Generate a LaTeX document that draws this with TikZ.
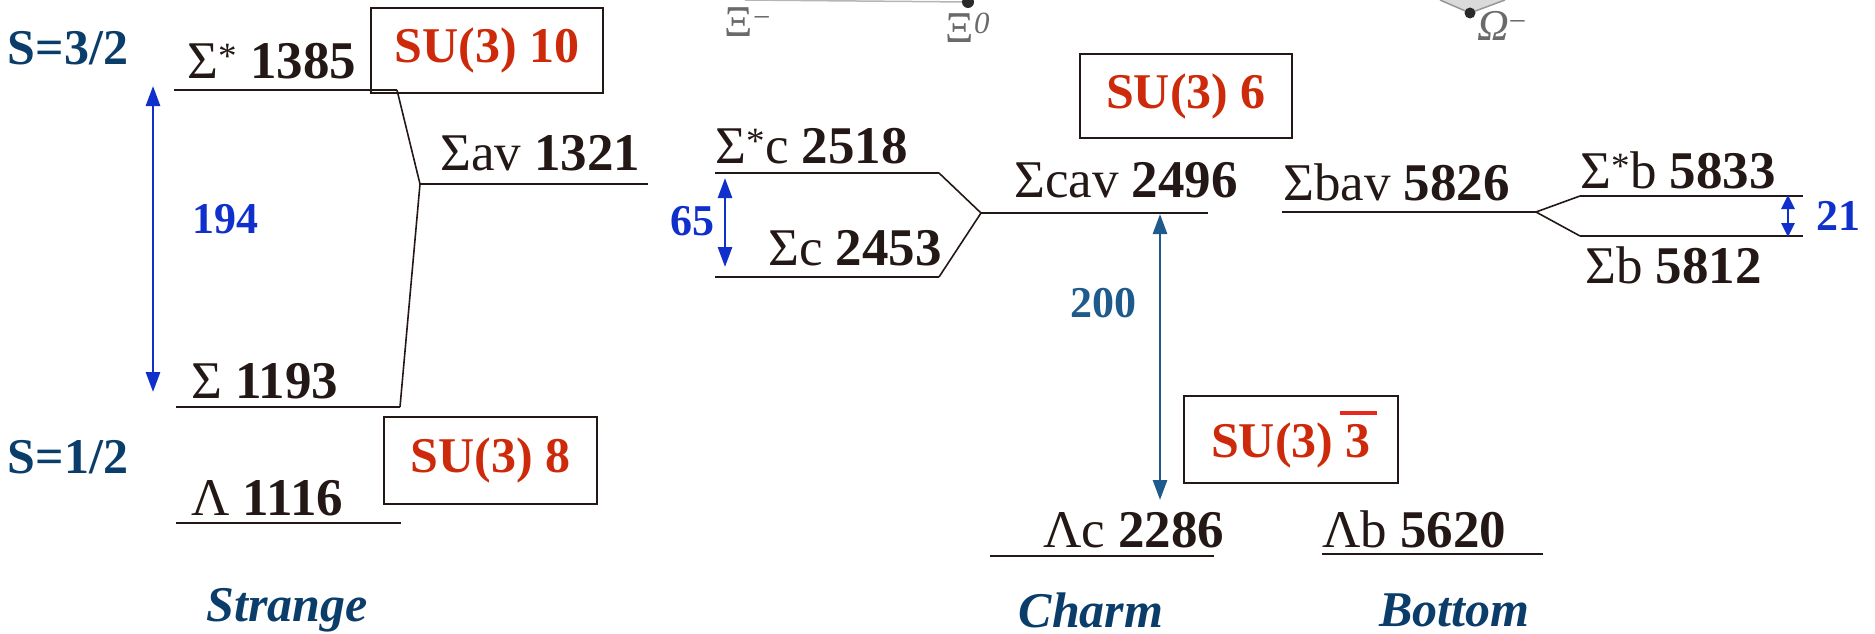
\documentclass[tikz,border=0pt]{standalone}
\usepackage{fontspec}
\setmainfont{Liberation Serif}
\usetikzlibrary{arrows.meta}
\definecolor{ink}{HTML}{231815}
\definecolor{navy}{HTML}{0B3D6B}
\definecolor{redsu}{HTML}{CC2A0A}
\definecolor{redbar}{HTML}{E8281E}
\definecolor{blu}{HTML}{1030CC}
\definecolor{steel}{HTML}{1F5A8C}
\definecolor{ghost}{HTML}{6A6A6A}
\begin{document}
\begin{tikzpicture}[x=1pt,y=-1pt,
 lvl/.style={line width=2.2pt, draw=ink},
 conn/.style={line width=1.6pt, draw=ink},
 lab/.style={anchor=base west, inner sep=0pt, text=ink, font=\fontsize{53}{60}\selectfont},
 subox/.style={draw=ink, line width=2pt, text=redsu, font=\bfseries\fontsize{50}{60}\selectfont, inner sep=0pt},
 spin/.style={text=navy, font=\bfseries\fontsize{50}{60}\selectfont, inner sep=0pt},
 flav/.style={text=navy, font=\bfseries\itshape\fontsize{50}{60}\selectfont, inner sep=0pt},
 gap/.style={text=blu, font=\bfseries\fontsize{44}{50}\selectfont, inner sep=0pt},
 gaparrow/.style={draw=blu, line width=2.8pt, {Triangle[length=20pt,width=14pt]}-{Triangle[length=20pt,width=14pt]}},
 ghosttext/.style={text=ghost, inner sep=0pt, font=\fontsize{44}{46}\selectfont},
]
\useasboundingbox (0,0) rectangle (1875,634);

% ---- faded fragments at the top
\coordinate (g1) at (745,0);
\coordinate (g2) at (968,2);
\draw[ghost!50, line width=1.5pt] (g1) -- (g2);
\fill[ghost!40!black] (g2) circle (6);
\node[ghosttext] (xim) at (748,22) {Ξ\textsuperscript{−}};
\node[ghosttext] (xi0) at (968,28) {Ξ\textsuperscript{\textit{0}}};
\coordinate (o0) at (1470,13);
\coordinate (ol) at (1440,0);
\coordinate (or) at (1505,0);
\fill[ghost!25] (ol) -- (o0) -- (or) -- cycle;
\draw[ghost!70, line width=1.5pt] (ol) -- (o0) -- (or);
\fill[ghost!40!black] (o0) circle (5.5);
\node[ghosttext] (om) at (1502,26) {\textit{Ω}\textsuperscript{−}};

% ---- spin labels
\node[spin] (s32) at (68,48) {S=3/2};
\node[spin] (s12) at (68,457) {S=1/2};

% ================= Strange =================
\coordinate (l1385a) at (174,90);  \coordinate (l1385b) at (397,90);
\coordinate (lava) at (420,184);   \coordinate (lavb) at (648,184);
\coordinate (l1193a) at (176,407); \coordinate (l1193b) at (400,407);
\coordinate (l1116a) at (176,523); \coordinate (l1116b) at (401,523);
\draw[lvl] (l1385a) -- (l1385b);
\draw[lvl] (lava) -- (lavb);
\draw[lvl] (l1193a) -- (l1193b);
\draw[lvl] (l1116a) -- (l1116b);
\draw[conn] (l1385b) -- (lava) -- (l1193b);

\node[lab] (n1385) at (187,78) {Σ\textsuperscript{*} \textbf{1385}};
\node[lab] (n1321) at (440,170) {Σav \textbf{1321}};
\node[lab] (n1193) at (191,398) {Σ \textbf{1193}};
\node[lab] (n1116) at (191,515) {Λ \textbf{1116}};

\node[subox, minimum width=232pt, minimum height=85pt] (b10) at (487,50.5) {SU(3) 10};
\node[subox, minimum width=213pt, minimum height=87pt] (b8) at (490.5,460.5) {SU(3) 8};

\coordinate (a194t) at (153,86);
\coordinate (a194b) at (153,392);
\draw[gaparrow] (a194t) -- (a194b);
\node[gap] (g194) at (225,219) {194};

\node[flav] (strange) at (287,610) {Strange};

% ================= Charm =================
\coordinate (lc1a) at (715,173); \coordinate (lc1b) at (939,173);
\coordinate (lc2a) at (715,277); \coordinate (lc2b) at (939,277);
\coordinate (lcava) at (981,213); \coordinate (lcavb) at (1208,213);
\coordinate (llca) at (990,556); \coordinate (llcb) at (1214,556);
\draw[lvl] (lc1a) -- (lc1b);
\draw[lvl] (lc2a) -- (lc2b);
\draw[lvl] (lcava) -- (lcavb);
\draw[lvl] (llca) -- (llcb);
\draw[conn] (lc1b) -- (lcava) -- (lc2b);

\node[lab] (n2518) at (715,163) {Σ\textsuperscript{*}c \textbf{2518}};
\node[lab] (n2453) at (768,265) {Σc \textbf{2453}};
\node[lab] (n2496) at (1014,197) {Σcav \textbf{2496}};
\node[lab] (n2286) at (1043,547) {Λc \textbf{2286}};

\node[subox, minimum width=212pt, minimum height=84pt] (b6) at (1186,96) {SU(3) 6};
\node[subox, minimum width=214pt, minimum height=87pt] (b3) at (1291,439.5)
  {SU(3) \makebox[0pt][l]{\hspace{-0.12em}\textcolor{redbar}{\rule[0.86em]{0.74em}{0.08em}}}3};

\coordinate (a65t) at (725,178);
\coordinate (a65b) at (725,267);
\draw[gaparrow] (a65t) -- (a65b);
\node[gap] (g65) at (692,221) {65};

\coordinate (a200t) at (1160,214);
\coordinate (a200b) at (1160,500);
\draw[gaparrow, draw=steel] (a200t) -- (a200b);
\node[gap, text=steel] (g200) at (1103,303) {200};

\node[flav] (charm) at (1091,610) {Charm};

% ================= Bottom =================
\coordinate (lbava) at (1282,212); \coordinate (lbavb) at (1536,212);
\coordinate (lb1a) at (1580,196);  \coordinate (lb1b) at (1803,196);
\coordinate (lb2a) at (1580,236);  \coordinate (lb2b) at (1803,236);
\coordinate (llba) at (1322,554);  \coordinate (llbb) at (1543,554);
\draw[lvl] (lbava) -- (lbavb);
\draw[lvl] (lb1a) -- (lb1b);
\draw[lvl] (lb2a) -- (lb2b);
\draw[lvl] (llba) -- (llbb);
\draw[conn] (lb1a) -- (lbavb) -- (lb2a);

\node[lab] (n5826) at (1283,200) {Σbav \textbf{5826}};
\node[lab] (n5833) at (1580,188) {Σ\textsuperscript{*}b \textbf{5833}};
\node[lab] (n5812) at (1585,283) {Σb \textbf{5812}};
\node[lab] (n5620) at (1322,547) {Λb \textbf{5620}};

\coordinate (a21t) at (1788,195);
\coordinate (a21b) at (1788,237);
\draw[gaparrow, {Triangle[length=14pt,width=13pt]}-{Triangle[length=14pt,width=13pt]}] (a21t) -- (a21b);
\node[gap] (g21) at (1838,216) {21};

\node[flav] (bottom) at (1454,610) {Bottom};
\end{tikzpicture}
\end{document}
